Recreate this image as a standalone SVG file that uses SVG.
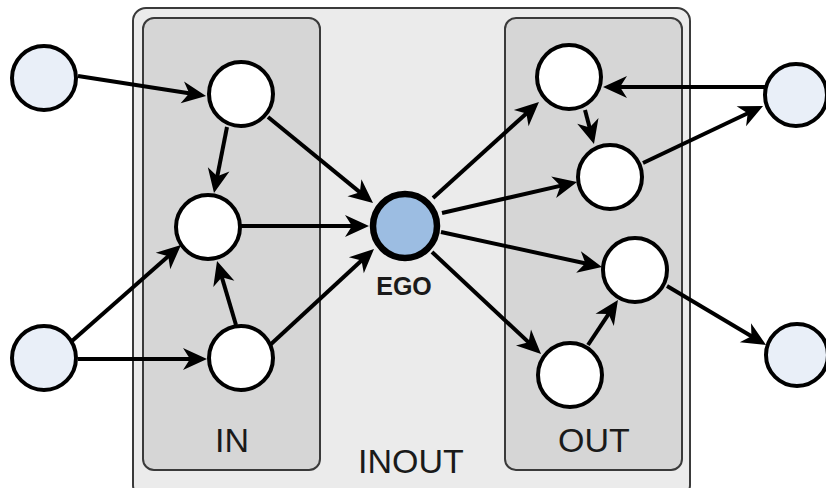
<svg xmlns="http://www.w3.org/2000/svg" width="826" height="488" viewBox="0 0 826 488">
<style>
.box{stroke:#3a3a3a;stroke-width:2}
.outer{fill:#ebebeb}
.inner{fill:#d6d6d6}
.n{fill:#ffffff;stroke:#000;stroke-width:4}
.ext{fill:#e9eff8;stroke:#000;stroke-width:4}
.ego{fill:#9cbde2;stroke:#000;stroke-width:6.5}
.e{stroke:#000;stroke-width:4;fill:none;marker-end:url(#ah)}
.lbl{font-family:"Liberation Sans",Arial,sans-serif;font-size:34px;fill:#1a1a1a;text-anchor:middle}
.egol{font-family:"Liberation Sans",Arial,sans-serif;font-size:25px;font-weight:bold;fill:#1a1a1a;text-anchor:middle}
</style>
<defs>
<marker id="ah" markerUnits="userSpaceOnUse" markerWidth="30" markerHeight="28" refX="12" refY="13" orient="auto" viewBox="0 0 30 28">
<path d="M26,13 L2,2 L9,13 L2,24 Z" fill="#000"/>
</marker>
</defs>
<rect width="826" height="488" fill="#fff"/>
<g id="inout">
<rect class="box outer" x="133" y="8" width="557" height="490" rx="13"/>
<text class="lbl" x="411" y="473">INOUT</text>
</g>
<g id="in">
<rect class="box inner" x="143" y="18" width="177" height="452" rx="11"/>
<text class="lbl" x="232" y="452">IN</text>
</g>
<g id="out">
<rect class="box inner" x="505" y="18" width="177" height="452" rx="11"/>
<text class="lbl" x="594" y="452">OUT</text>
</g>
<g id="connectors">
<line class="e" x1="78" y1="76" x2="192.2" y2="93.8"/>
<line class="e" x1="227" y1="127" x2="216.7" y2="179.3"/>
<line class="e" x1="268" y1="117" x2="362.2" y2="194.1"/>
<line class="e" x1="241" y1="226" x2="355" y2="226"/>
<line class="e" x1="236" y1="325" x2="221" y2="274.4"/>
<line class="e" x1="270" y1="345" x2="363.7" y2="258.5"/>
<line class="e" x1="72" y1="341" x2="170.5" y2="254.3"/>
<line class="e" x1="78" y1="359" x2="193" y2="359"/>
<line class="e" x1="433" y1="198" x2="528.6" y2="111.4"/>
<line class="e" x1="442" y1="213" x2="563.4" y2="185.1"/>
<line class="e" x1="441" y1="232" x2="588.3" y2="264"/>
<line class="e" x1="432" y1="252" x2="530.8" y2="344.4"/>
<line class="e" x1="588" y1="345" x2="610.2" y2="311.6"/>
<line class="e" x1="585" y1="110" x2="590.4" y2="130.5"/>
<line class="e" x1="765" y1="87" x2="617" y2="87"/>
<line class="e" x1="643" y1="163" x2="750.4" y2="112"/>
<line class="e" x1="667" y1="286" x2="754" y2="337.8"/>
</g>
<g id="ext-l1"><circle class="ext" cx="44" cy="78" r="32"/></g>
<g id="ext-l2"><circle class="ext" cx="44" cy="358" r="32"/></g>
<g id="in1"><circle class="n" cx="241" cy="94" r="32"/></g>
<g id="in2"><circle class="n" cx="208" cy="227" r="32"/></g>
<g id="in3"><circle class="n" cx="241" cy="358" r="32"/></g>
<g id="ego"><circle class="ego" cx="405" cy="226" r="32"/><text class="egol" x="404" y="295">EGO</text></g>
<g id="out1"><circle class="n" cx="569" cy="77" r="32"/></g>
<g id="out2"><circle class="n" cx="610" cy="177" r="32"/></g>
<g id="out3"><circle class="n" cx="635" cy="270" r="32"/></g>
<g id="out4"><circle class="n" cx="570" cy="375" r="32"/></g>
<g id="ext-r1"><circle class="ext" cx="796" cy="95" r="31"/></g>
<g id="ext-r2"><circle class="ext" cx="797" cy="355" r="31"/></g>
</svg>
